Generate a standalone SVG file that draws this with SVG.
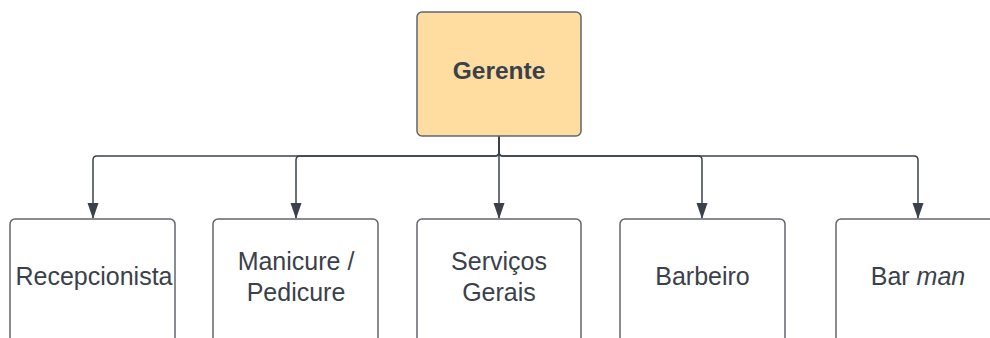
<svg xmlns="http://www.w3.org/2000/svg" width="990" height="338" viewBox="0 0 990 338">
  <style>
    .box { fill: #ffffff; stroke: #61666d; stroke-width: 1.5; }
    .boss { fill: #ffdda1; stroke: #61666d; stroke-width: 1.5; }
    .lbl { font-family: "Liberation Sans", Arial, sans-serif; font-size: 25px; fill: #3a414a; text-anchor: middle; }
    .bold { font-weight: bold; font-size: 24.5px; }
    .wire { fill: none; stroke: #3a414a; stroke-width: 1.5; }
  </style>
  <defs>
    <marker id="arrow" markerWidth="16" markerHeight="12" refX="15" refY="6" orient="auto" markerUnits="userSpaceOnUse">
      <path d="M0,0.5 L16,6 L0,11.5 Z" fill="#3a414a"/>
    </marker>
  </defs>
  <rect width="990" height="338" fill="#ffffff"/>

  <g id="connectors">
    <path class="wire" marker-end="url(#arrow)" d="M499,136 V152 Q499,156 495,156 H97 Q93,156 93,160 V218"/>
    <path class="wire" marker-end="url(#arrow)" d="M499,136 V152 Q499,156 495,156 H300 Q296,156 296,160 V218"/>
    <path class="wire" marker-end="url(#arrow)" d="M499,136 V218"/>
    <path class="wire" marker-end="url(#arrow)" d="M499,136 V152 Q499,156 503,156 H698 Q702,156 702,160 V218"/>
    <path class="wire" marker-end="url(#arrow)" d="M499,136 V152 Q499,156 503,156 H914 Q918,156 918,160 V218"/>
  </g>

  <g id="gerente">
    <rect class="boss" x="417" y="12" width="164" height="124" rx="5"/>
    <text class="lbl bold" x="499" y="79">Gerente</text>
  </g>

  <g id="recepcionista">
    <rect class="box" x="10" y="219" width="165" height="130" rx="5"/>
    <text class="lbl" x="94" y="285">Recepcionista</text>
  </g>

  <g id="manicure">
    <rect class="box" x="213" y="219" width="165" height="130" rx="5"/>
    <text class="lbl" x="296" y="270">Manicure /</text>
    <text class="lbl" x="296" y="301">Pedicure</text>
  </g>

  <g id="servicos">
    <rect class="box" x="417" y="219" width="164" height="130" rx="5"/>
    <text class="lbl" x="499" y="270">Serviços</text>
    <text class="lbl" x="499" y="301">Gerais</text>
  </g>

  <g id="barbeiro">
    <rect class="box" x="620" y="219" width="165" height="130" rx="5"/>
    <text class="lbl" x="702.5" y="285">Barbeiro</text>
  </g>

  <g id="barman">
    <rect class="box" x="836" y="219" width="165" height="130" rx="5"/>
    <text class="lbl" x="918" y="285">Bar <tspan font-style="italic">man</tspan></text>
  </g>
</svg>
